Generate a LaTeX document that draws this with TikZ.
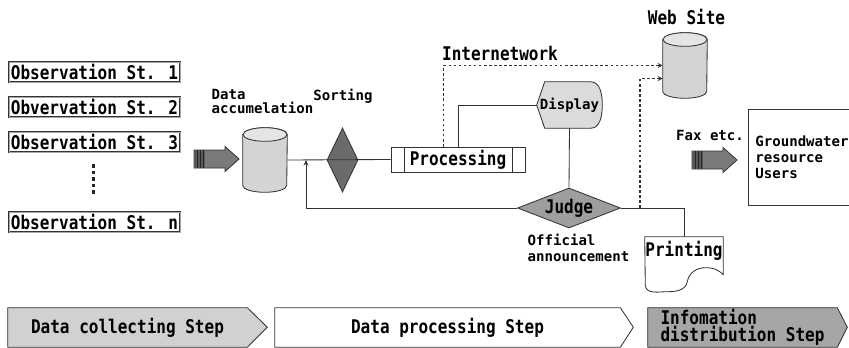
\documentclass[tikz,border=0pt]{standalone}
\usepackage{fontspec}
\newfontfamily\gothic[FakeStretch=0.85]{DejaVu Sans Mono}
\newfontfamily\gothicsm{DejaVu Sans Mono}
\usetikzlibrary{shapes.geometric,arrows.meta,backgrounds}

\tikzset{
  big/.style={font=\gothic\bfseries\fontsize{13.4}{14}\selectfont},
  small/.style={font=\gothicsm\bfseries\fontsize{10}{11.3}\selectfont, inner sep=0pt},
  line/.style={draw=black!80, line width=0.6pt},
  obsbox/.style={big, line, double=black!35, double distance=0.5pt,
    minimum width=4.275cm, minimum height=0.5cm, inner sep=0pt},
  cylbox/.style={minimum width=1.1cm, minimum height=1.6cm, inner sep=0pt},
  sortdia/.style={diamond, aspect=0.48, line, fill=black!58,
    minimum width=0.775cm, minimum height=1.6cm, inner sep=0pt},
  judgedia/.style={diamond, aspect=2.6, big, line, fill=black!38,
    minimum width=2.575cm, minimum height=1cm, inner sep=0pt},
  procbox/.style={big, line, fill=white, minimum width=3.35cm, minimum height=0.625cm, inner sep=0pt},
  stepbox/.style={big, minimum height=0.975cm, inner sep=0pt},
  dotline/.style={draw=black!80, line width=0.9pt, dash pattern=on 1.8pt off 1.8pt,
    -{Stealth[length=3.5pt,width=3.5pt]}},
}

\begin{document}
\begin{tikzpicture}[x=0.025cm,y=-0.025cm]
  \useasboundingbox (0,0) rectangle (849,348);

  % observation stations
  \node[obsbox] (st1) at (94.5,72) {Observation St. 1};
  \node[obsbox] (st2) at (94.5,107) {Obvervation St. 2};
  \node[obsbox] (st3) at (94.5,142) {Observation St. 3};
  \node[obsbox] (stn) at (94.5,222) {Observation St. n};
  \foreach \k in {0,...,4}
    \fill[black!85] (91.5,164+6.6*\k) rectangle ++(3,3.6);

  % fat arrows
  \foreach \ax/\ay in {216/159,714/160} {
    \begin{scope}[shift={(\ax,\ay)}]
      \draw[line, fill=black!52] (-22,-9) -- (9,-9) -- (9,-12.5) -- (23,0) -- (9,12.5) -- (9,9) -- (-22,9) -- cycle;
      \fill[black!65] (-22,-9) rectangle (-11,9);
      \foreach \sx in {-19,-16,-13}
        \draw[black!85, line width=0.5pt] (\sx,-9) -- (\sx,9);
    \end{scope}
  }

  % data processing
  \node[cylbox] (dacc) at (265,160) {};
  \node[small, align=left, font=\gothicsm\bfseries\fontsize{10}{9.3}\selectfont] (acclbl) at (262.5,101.5) {Data\\accumelation};
  \node[sortdia] (sort) at (342.5,160) {};
  \node[small] (sortlbl) at (343,96) {Sorting};
  \node[procbox] (proc) at (458,159.5) {Processing};
  \draw[line] ([xshift=0.35cm]proc.north west) -- ([xshift=0.35cm]proc.south west);
  \draw[line] ([xshift=-0.325cm]proc.north east) -- ([xshift=-0.325cm]proc.south east);
  \draw[line] (dacc.east) -- (proc.west);

  \node[small] (disp) at (569.5,105) [minimum width=1.625cm, minimum height=1.15cm] {Display};
  \node[judgedia] (judge) at (569,208) {Judge};
  \node[small, align=left] (offlbl) at (578.5,248) {Official\\announcement};

  \node[big, minimum width=1.95cm, minimum height=0.7cm, inner sep=0pt] (print) at (684,251) {Printing};
  \draw[line] (print.north east) -- ++(0,38) to[out=135,in=0] ++(-18,-7)
    to[out=180,in=80] ++(-18,14) to[out=260,in=0] ++(-20,10)
    to[out=180,in=-80] ++(-22,-6) -- (print.north west) -- cycle;

  \node[cylbox, minimum height=1.625cm] (web) at (685,65.5) {};
  \node[big] (weblbl) at (686.5,17) {Web Site};
  \node[big] (inetlbl) at (500,53) {Internetwork};

  \begin{scope}[on background layer]
    \foreach \c in {dacc,web} {
      \draw[line, fill=black!17] ([yshift=-0.17cm]\c.north west) -- ([yshift=0.17cm]\c.south west)
        arc[start angle=180, end angle=360, x radius=0.55cm, y radius=0.17cm]
        -- ([yshift=-0.17cm]\c.north east)
        arc[start angle=0, end angle=180, x radius=0.55cm, y radius=0.17cm] -- cycle;
      \draw[line, fill=black!10] ([yshift=-0.17cm]\c.north) ellipse [x radius=0.55cm, y radius=0.17cm];
    }
    \draw[line, fill=black!14] (disp.west) -- ([xshift=0.2cm]disp.north west)
      -- ([xshift=-0.3cm]disp.north east) to[out=0,in=90] (disp.east)
      to[out=-90,in=0] ([xshift=-0.3cm]disp.south east) -- ([xshift=0.2cm]disp.south west) -- cycle;
  \end{scope}

  \draw[line] ([xshift=1.7cm]proc.north west) |- (disp.west);
  \draw[line] (disp.south) -- (judge.north);
  \draw[line] (judge.east) -| (print.north);
  \coordinate (fb) at (306,160);
  \draw[line, -{Stealth[length=4pt,width=3.5pt]}] (judge.west) -| (fb);
  \draw[dotline] ([xshift=1.325cm]proc.north west) |- (web.west);
  \coordinate (jp) at (640,208);
  \draw[dotline] (jp) |- ([yshift=-0.325cm]web.west);

  % distribution
  \node[small] (faxlbl) at (710,135) {Fax etc.};
  \node[small, line, anchor=west, align=left, text width=3cm, minimum height=2.4cm,
    inner sep=0.175cm] (users) at (748,157) {Groundwater\\resource\\Users};

  % steps
  \node[stepbox, minimum width=5.975cm] (step1) at (127.5,327.5) {Data collecting Step};
  \node[stepbox, minimum width=8.625cm] (step2) at (447.5,327.5) {Data processing Step};
  \node[stepbox, minimum width=4.725cm, align=left,
    font=\gothic\bfseries\fontsize{13.4}{12.5}\selectfont] (step3) at (742.5,327.5) {Infomation\\distribution Step};
  \begin{scope}[on background layer]
    \foreach \s/\f/\p in {step1/black!18/20, step2/white/13, step3/black!35/10}
      \draw[line, fill=\f] (\s.north west) -- (\s.north east) -- ++(\p,19.5)
        -- (\s.south east) -- (\s.south west) -- cycle;
  \end{scope}
\end{tikzpicture}
\end{document}
